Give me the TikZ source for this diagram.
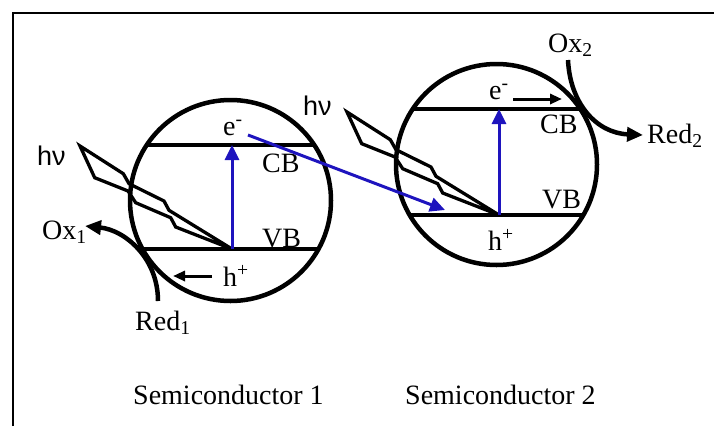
\documentclass[tikz,border=0pt]{standalone}
\usepackage{fontspec}
\setmainfont{Liberation Serif}
\newfontfamily\sansf{Liberation Sans}
\usetikzlibrary{arrows.meta}
\definecolor{eblue}{RGB}{30,20,190}
\begin{document}
\begin{tikzpicture}[x=1pt,y=-1pt,
  lbl/.style={inner sep=0pt, anchor=base west, font=\fontsize{28}{32}\selectfont},
  hvl/.style={inner sep=0pt, anchor=base west, font=\sansf\fontsize{27}{32}\selectfont},
  particle/.style={circle, draw, line width=4.5pt, minimum size=201pt, inner sep=0pt},
  band/.style={line width=3.5pt},
  bolt/.style={line width=3.3pt, line join=miter},
  excite/.style={draw=eblue, line width=3pt, -{Triangle[length=15pt,width=14pt]}},
  smallarrow/.style={line width=3pt, -{Triangle[length=12pt,width=10pt]}},
  redox/.style={line width=4.5pt, -{Triangle[length=16pt,width=14pt]}},
  frameline/.style={line width=2pt},
  boltpic/.pic={\draw[bolt] (0,0) -- (43.3,27.7) -- (49,37.7) -- (84,55) -- (89,64.3)
     -- (152,103) -- (95.7,81) -- (90.7,71.7) -- (55.7,56.7) -- (48,45) -- (14.7,31.7) -- cycle;}
]
\useasboundingbox (0,0) rectangle (714,426);
\draw[frameline] (12.5,426) -- (12.5,13) -- (714,13);

% particles
\node[particle] (c1) at (230.5,200.5) {};
\node[particle] (c2) at (496.5,164.5) {};

% bands
\coordinate (cb1l) at (146.7,145); \coordinate (cb1r) at (314.3,145);
\coordinate (vb1l) at (142.5,249); \coordinate (vb1r) at (318.5,249);
\coordinate (cb2l) at (412.7,109); \coordinate (cb2r) at (580.3,109);
\coordinate (vb2l) at (409.6,215); \coordinate (vb2r) at (583.4,215);
\draw[band] (cb1l) -- (cb1r);
\draw[band] (vb1l) -- (vb1r);
\draw[band] (cb2l) -- (cb2r);
\draw[band] (vb2l) -- (vb2r);

% light bolts
\pic at (80,146) {boltpic};
\pic at (347,112) {boltpic};

% labels
\node[hvl] (hv1) at (37,165) {hν};
\node[hvl] (hv2) at (303,115) {hν};
\node[lbl] (e1) at (223,135) {e\textsuperscript{-}};
\node[lbl] (cbl1) at (262,172.7) {CB};
\node[lbl] (vbl1) at (262,247) {VB};
\node[lbl] (h1) at (223,286) {h\textsuperscript{+}};
\node[lbl] (ox1) at (42,239) {Ox\textsubscript{1}};
\node[lbl] (red1) at (135,330) {Red\textsubscript{1}};
\node[lbl] (sc1) at (133,404) {Semiconductor 1};
\node[lbl] (ox2) at (548,52) {Ox\textsubscript{2}};
\node[lbl] (e2) at (489,99) {e\textsuperscript{-}};
\node[lbl] (cbl2) at (540,133) {CB};
\node[lbl] (red2) at (647,143) {Red\textsubscript{2}};
\node[lbl] (vbl2) at (542,208) {VB};
\node[lbl] (h2) at (488,250) {h\textsuperscript{+}};
\node[lbl] (sc2) at (405,404) {Semiconductor 2};

% excitation arrows
\coordinate (x1s) at (232,249); \coordinate (x1e) at (232,145);
\coordinate (x2s) at (499,215); \coordinate (x2e) at (499,109);
\draw[excite] (x1s) -- (x1e);
\draw[excite] (x2s) -- (x2e);
\coordinate (tr1) at (248,135); \coordinate (tr2) at (445,210);
\draw[excite] (tr1) -- (tr2);

% carrier migration arrows
\coordinate (ha1) at (212,276); \coordinate (ha2) at (173,276);
\draw[smallarrow] (ha1) -- (ha2);
\coordinate (ea1) at (513,99); \coordinate (ea2) at (562,99);
\draw[smallarrow] (ea1) -- (ea2);

% redox arrows
\coordinate (r1s) at (158,301); \coordinate (r1e) at (85,226);
\draw[redox] (r1s) .. controls (158,258) and (125,230) .. (r1e);
\coordinate (r2s) at (568,60); \coordinate (r2e) at (643,135);
\draw[redox] (r2s) .. controls (570,103) and (596,133) .. (r2e);
\end{tikzpicture}
\end{document}
